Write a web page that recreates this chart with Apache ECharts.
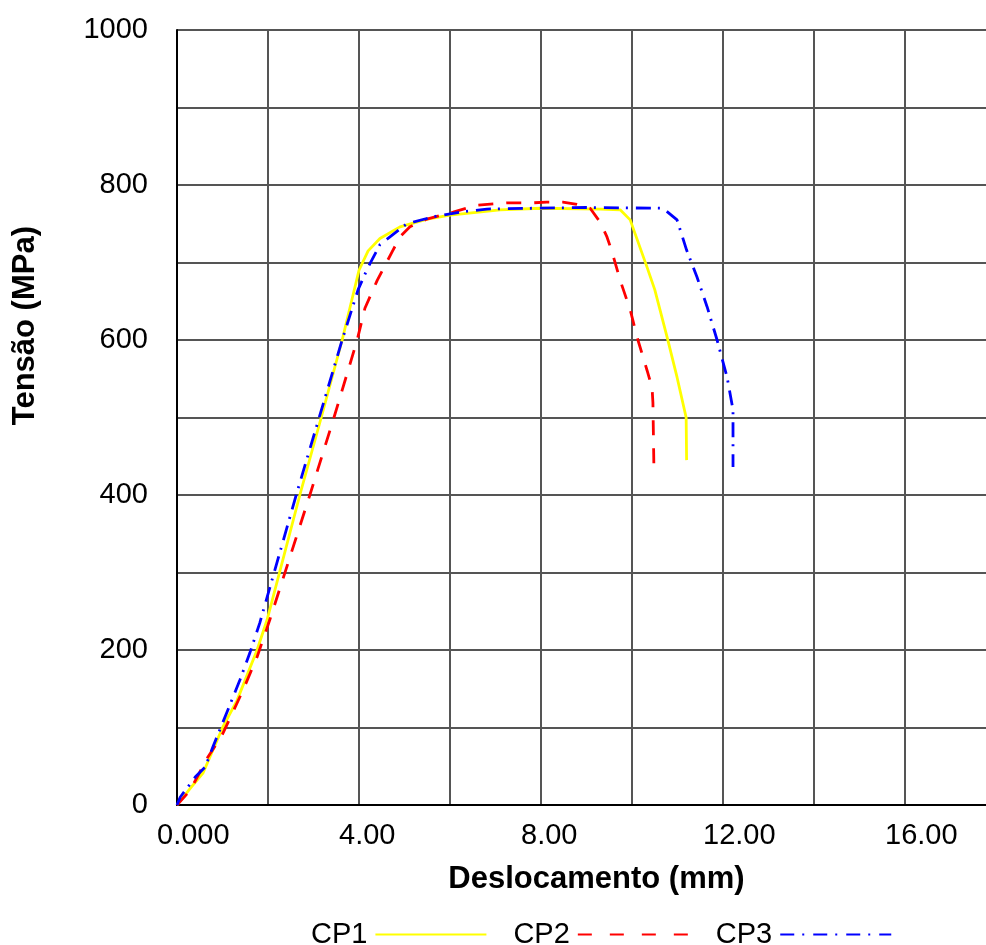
<!DOCTYPE html>
<html lang="pt">
<head>
    <meta charset="utf-8">
    <style>
        html, body { margin: 0; padding: 0; background: #fff; }
        #chart { width: 986px; height: 945px; }
    </style>
</head>
<body>
<div id="chart"></div>
<script src="https://cdn.jsdelivr.net/npm/echarts@6.0.0/dist/echarts.min.js"></script>
<script type="text/javascript">

// CP1 - linha amarela continua
var cp1X = [0, 0.3, 0.57, 1.01, 1.32, 1.76, 1.98, 2.7, 3.17, 3.63, 4.0, 4.2, 4.46, 4.9, 5.5, 6.0, 7.1, 8.0, 9.3, 9.74, 9.96, 10.33, 10.5, 10.77, 10.99, 11.19, 11.2];
var cp1Y = [0, 22, 41, 101, 135, 200, 239, 400, 500, 600, 690, 715, 731, 746, 756, 761, 768, 770, 769, 768, 755, 694, 665, 604, 552, 500, 445];

// CP2 - tracejada vermelha
var cp2X = [0, 0.29, 0.68, 0.99, 1.45, 1.76, 2.04, 2.92, 3.45, 3.96, 4.13, 4.4, 4.73, 4.9, 5.12, 5.49, 6.07, 6.59, 7.25, 7.82, 8.13, 8.48, 8.79, 9.08, 9.3, 9.45, 9.56, 9.74, 9.96, 10.13, 10.33, 10.44, 10.46, 10.48];
var cp2Y = [0, 19, 62, 90, 148, 191, 239, 400, 500, 600, 641, 677, 714, 733, 746, 756, 765, 774, 777, 777, 778, 778, 775, 770, 752, 733, 714, 677, 639, 600, 561, 539, 519, 441];

// CP3 - traco-ponto azul
var cp3X = [0, 0.07, 0.4, 0.62, 0.79, 1.12, 1.38, 1.6, 1.82, 2.62, 3.63, 3.98, 4.2, 4.46, 4.68, 5.05, 5.63, 6.22, 6.81, 7.82, 9.0, 10.68, 10.99, 11.2, 11.43, 11.65, 11.87, 12.09, 12.22, 12.22];
var cp3Y = [0, 10, 36, 49, 75, 123, 161, 196, 235, 400, 600, 665, 694, 723, 733, 750, 759, 765, 769, 770, 771, 770, 755, 716, 681, 643, 600, 552, 510, 436];

function pares(xs, ys) {
    return xs.map(function (x, i) { return [x, ys[i]]; });
}

var font = 'Liberation Sans, Arial, sans-serif';
var chart = echarts.init(document.getElementById('chart'));

var option = {
    animation: false,
    backgroundColor: '#fff',
    textStyle: { fontFamily: font },
    grid: { left: 177, top: 30, width: 819, height: 775, outerBoundsMode: 'none', containLabel: false },
    legend: {
        left: 306,
        top: 915,
        align: 'right',
        itemWidth: 111,
        itemHeight: 14,
        itemGap: 26,
        itemStyle: { opacity: 0 },
        textStyle: { fontSize: 29, color: '#000', fontFamily: font, padding: [0, 3, 0, 0] },
        data: [
            { name: 'CP1' },
            { name: 'CP2', lineStyle: { type: [14, 18] } },
            { name: 'CP3', lineStyle: { type: [14, 8, 2, 9] } }
        ]
    },
    xAxis: {
        type: 'value',
        min: 0,
        max: 18,
        interval: 2,
        name: 'Deslocamento (mm)',
        nameLocation: 'middle',
        nameGap: 59,
        nameTextStyle: { fontSize: 31, fontWeight: 'bold', color: '#000', padding: [0, 0, 0, 20] },
        axisLine: { show: true, lineStyle: { color: '#000', width: 2 } },
        axisTick: { show: false },
        splitLine: { show: true, lineStyle: { color: '#555', width: 2 } },
        axisLabel: {
            fontSize: 29,
            color: '#000',
            margin: 16,
            align: 'left',
            padding: [0, 0, 0, -20],
            formatter: function (v) {
                if (v % 4 !== 0) return '';
                return v === 0 ? '0.000' : v.toFixed(2);
            }
        }
    },
    yAxis: {
        type: 'value',
        min: 0,
        max: 1000,
        interval: 100,
        axisLine: { show: true, lineStyle: { color: '#000', width: 2 } },
        axisTick: { show: false },
        splitLine: { show: true, lineStyle: { color: '#555', width: 2 } },
        axisLabel: {
            fontSize: 29,
            color: '#000',
            margin: 29,
            formatter: function (v) { return v % 200 === 0 ? String(v) : ''; }
        }
    },
    graphic: [{
        type: 'text',
        left: 10,
        top: 226,
        rotation: Math.PI / 2,
        style: {
            text: 'Tensão (MPa)',
            font: 'bold 31px ' + font,
            fill: '#000'
        }
    }],
    series: [
        {
            name: 'CP1', type: 'line', showSymbol: false, symbol: 'none',
            lineStyle: { color: '#FFFF00', width: 2.8, type: 'solid' },
            itemStyle: { color: '#FFFF00' },
            data: pares(cp1X, cp1Y)
        },
        {
            name: 'CP2', type: 'line', showSymbol: false, symbol: 'none',
            lineStyle: { color: '#FF0000', width: 2.8, type: [15, 13] },
            itemStyle: { color: '#FF0000' },
            data: pares(cp2X, cp2Y)
        },
        {
            name: 'CP3', type: 'line', showSymbol: false, symbol: 'none',
            lineStyle: { color: '#0000FF', width: 2.8, type: [15, 7, 2, 8] },
            itemStyle: { color: '#0000FF' },
            data: pares(cp3X, cp3Y)
        }
    ]
};
chart.setOption(option);

</script>
</body>
</html>
